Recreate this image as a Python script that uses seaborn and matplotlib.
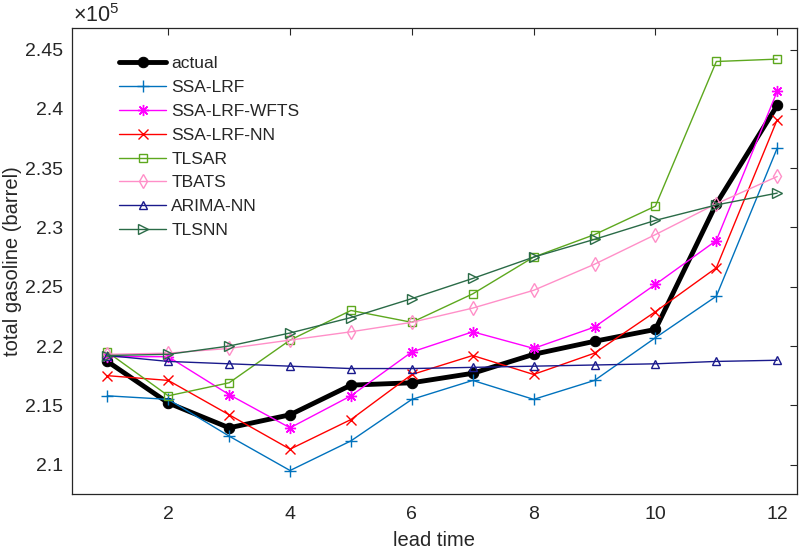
import numpy as np
import pandas as pd
import matplotlib
matplotlib.use('Agg')
import matplotlib.pyplot as plt
import seaborn as sns

# forecast values, units of 1e5 barrels
lead_time = list(range(1, 13))
actual = [2.187, 2.152, 2.131, 2.142, 2.167, 2.169, 2.177, 2.193, 2.204, 2.214, 2.320, 2.403]
ssa_lrf = [2.158, 2.155, 2.124, 2.095, 2.120, 2.155, 2.171, 2.155, 2.171, 2.207, 2.242, 2.367]
ssa_lrf_wfts = [2.191, 2.191, 2.159, 2.131, 2.158, 2.195, 2.212, 2.198, 2.216, 2.252, 2.289, 2.415]
ssa_lrf_nn = [2.175, 2.171, 2.142, 2.113, 2.138, 2.176, 2.192, 2.176, 2.194, 2.229, 2.266, 2.391]
tlsar = [2.195, 2.158, 2.169, 2.205, 2.230, 2.220, 2.244, 2.275, 2.294, 2.318, 2.440, 2.442]
tbats = [2.193, 2.194, 2.198, 2.205, 2.212, 2.220, 2.232, 2.247, 2.269, 2.294, 2.320, 2.343]
arima_nn = [2.192, 2.187, 2.185, 2.183, 2.181, 2.181, 2.182, 2.183, 2.184, 2.185, 2.187, 2.188]
tlsnn = [2.192, 2.193, 2.200, 2.211, 2.224, 2.240, 2.257, 2.275, 2.290, 2.306, 2.319, 2.329]

names = ['SSA-LRF', 'SSA-LRF-WFTS', 'SSA-LRF-NN', 'TLSAR', 'TBATS', 'ARIMA-NN', 'TLSNN']
series = [ssa_lrf, ssa_lrf_wfts, ssa_lrf_nn, tlsar, tbats, arima_nn, tlsnn]
colors = ['#0072BD', '#FF00FF', '#FF0000', '#5DA81E', '#FF8FC8', '#1A1A8C', '#2A6B47']
markers = ['+', (8, 2, 0), 'x', 's', 'd', '^', '>']
msizes = [8, 8, 7, 6, 7, 6, 7]
filled = [True, True, True, False, False, False, False]

sns.set_style('white')
plt.rcParams['font.family'] = ['Liberation Sans', 'DejaVu Sans']
plt.rcParams['mathtext.fontset'] = 'custom'
plt.rcParams['mathtext.rm'] = 'Liberation Sans'

fig = plt.figure(figsize=(8, 5.56), dpi=100)
ax = fig.add_axes([0.0896, 0.1124, 0.9063, 0.8367])

sns.lineplot(x=lead_time, y=actual, color='black', linewidth=3.5, marker='o',
             markersize=7.5, markeredgecolor='black', markerfacecolor='black',
             label='actual', ax=ax)

for name, vals, c, m, ms, f in zip(names, series, colors, markers, msizes, filled):
    sns.lineplot(x=lead_time, y=vals, color=c, linewidth=1.0, marker=m,
                 markersize=ms, markeredgecolor=c, markeredgewidth=1.0,
                 markerfacecolor=c if f else 'none', label=name, ax=ax)

ax.set_xlim(0.414, 12.32)
ax.set_ylim(2.0756, 2.468)
ax.set_xticks([2, 4, 6, 8, 10, 12])
ax.set_yticks([2.1, 2.15, 2.2, 2.25, 2.3, 2.35, 2.4, 2.45])
ax.set_yticklabels(['2.1', '2.15', '2.2', '2.25', '2.3', '2.35', '2.4', '2.45'])
ax.tick_params(direction='in', top=True, right=True, length=5, width=0.8,
               labelsize=14, colors='#262626')
ax.tick_params(axis='y', pad=6)
ax.tick_params(axis='x', pad=9)
for s in ax.spines.values():
    s.set_color('#262626')
    s.set_linewidth(0.9)

ax.set_xlabel('lead time', fontsize=14.5, color='#262626', labelpad=6)
ax.set_ylabel('total gasoline (barrel)', fontsize=14.5, color='#262626', labelpad=2)
fig.text(0.091, 0.972, r'$\times10^{5}$', fontsize=15.5, color='#262626',
         va='center', ha='left')

ax.legend(loc='upper left', bbox_to_anchor=(0.056, 0.955), frameon=False,
          fontsize=12.5, handlelength=2.7, handletextpad=0.3, labelspacing=0.5,
          borderaxespad=0)

fig.savefig('out.png', dpi=100)
